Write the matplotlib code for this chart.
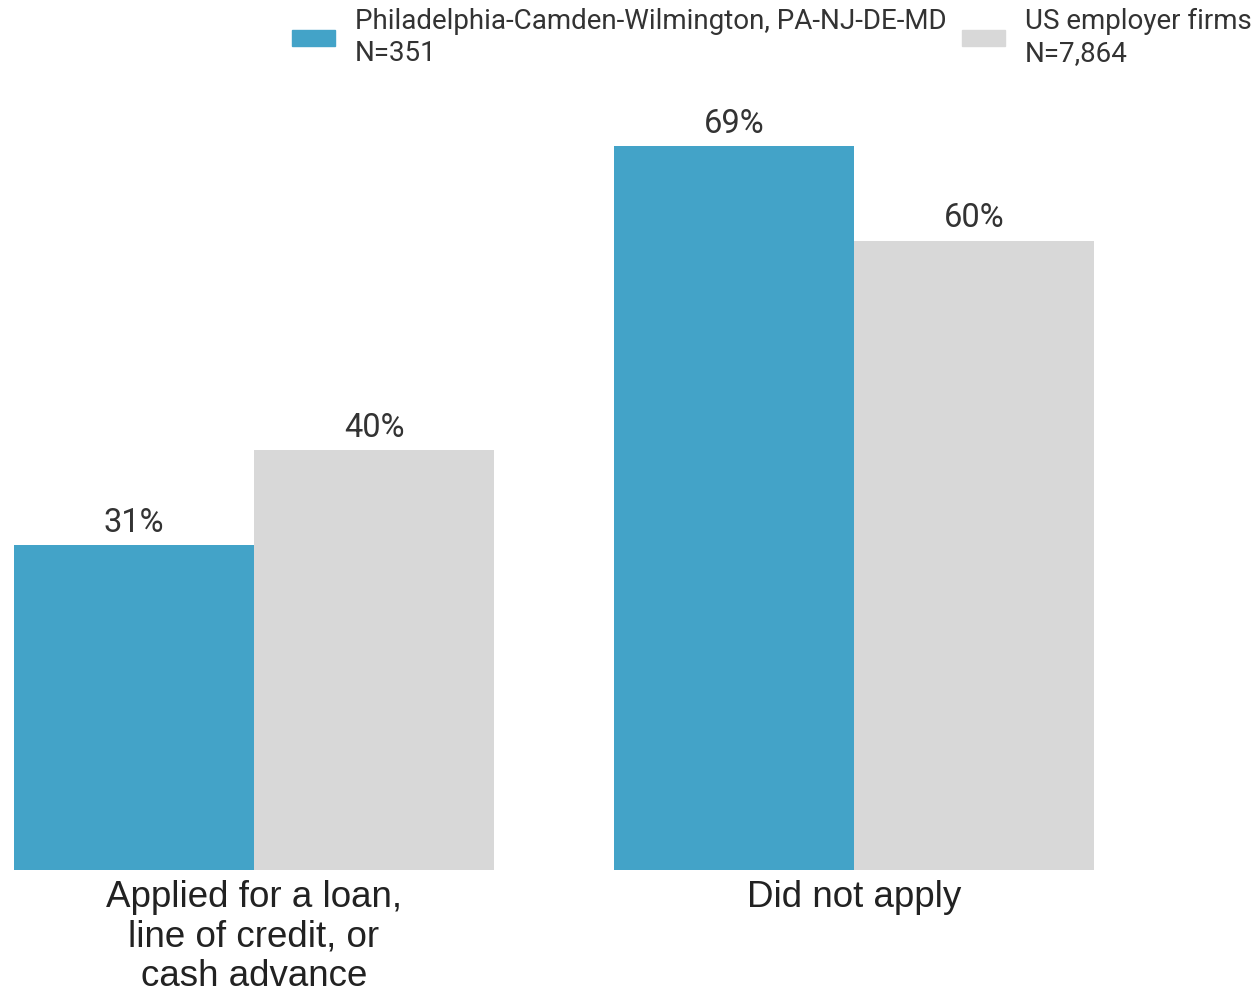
import matplotlib.pyplot as plt
import numpy as np
from matplotlib.patches import Patch

categories = ["Applied for a loan,\nline of credit, or\ncash advance", "Did not apply"]
series_names = ["Philadelphia-Camden-Wilmington, PA-NJ-DE-MD\nN=351", "US employer firms\nN=7,864"]
metro = [31, 69]
us = [40, 60]
colors = ["#43a3c8", "#d8d8d8"]

fig = plt.figure(figsize=(12.6, 9.93), dpi=100)
ax = fig.add_axes([14 / 1260, 123 / 993, 1080 / 1260, 770 / 993])

x = np.arange(len(categories))
w = 0.4
for vals, off, c in [(metro, -w / 2, colors[0]), (us, w / 2, colors[1])]:
    bars = ax.bar(x + off, vals, w, color=c)
    for b, v in zip(bars, vals):
        ax.text(b.get_x() + b.get_width() / 2, v + 0.6, f"{v}%", ha="center", va="bottom",
                fontsize=23.5, family="Roboto", color="#333333")

ax.set_xlim(-0.4, 1.4)
ax.set_ylim(0, 770 / 10.49)
ax.set_xticks(x)
ax.set_xticklabels(categories, fontsize=26.5, family="Liberation Sans", color="#222222", linespacing=1.18)
ax.tick_params(axis="x", length=0, pad=7)
ax.set_yticks([])
for s in ax.spines.values():
    s.set_visible(False)

handles = [Patch(color=c) for c in colors]
fig.legend(handles, series_names, loc="upper right", bbox_to_anchor=(1.0, 1.0), ncol=2, frameon=False,
           prop={"family": "Roboto", "size": 20}, handlelength=1.55, handleheight=0.5,
           columnspacing=0.55, handletextpad=0.72, labelcolor="#333333",
           borderpad=0.2, borderaxespad=0.1)

fig.savefig("out.png", dpi=100)
